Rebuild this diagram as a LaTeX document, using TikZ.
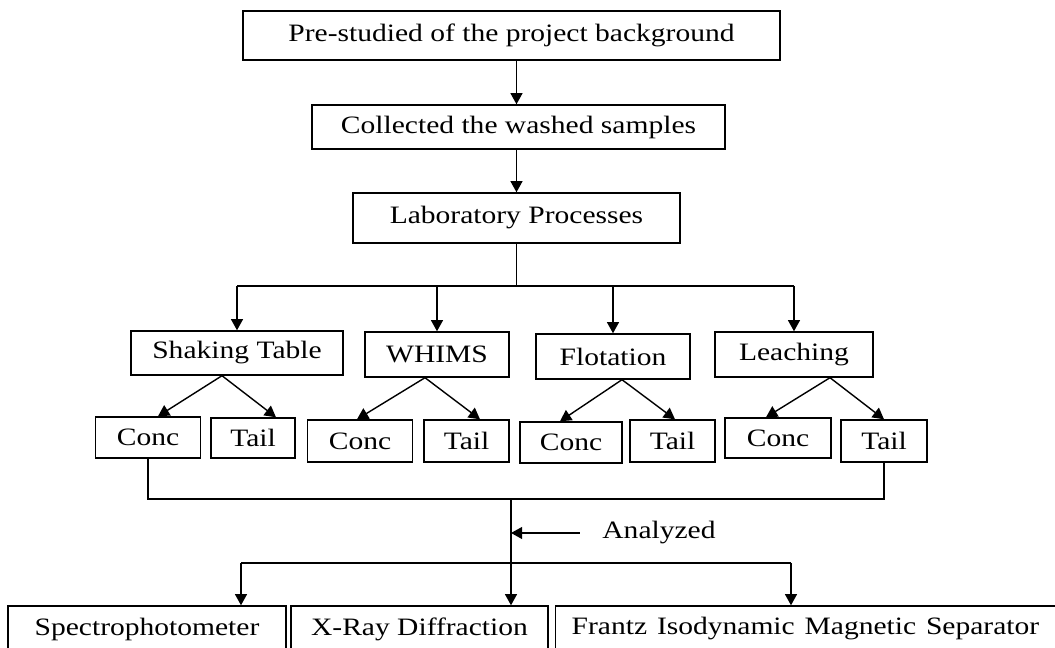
\documentclass[tikz,border=0pt]{standalone}
\usepackage{fontspec}
\setmainfont{Liberation Serif}
\usetikzlibrary{arrows.meta,calc}
\newcommand{\wide}[1]{\scalebox{1.18}[1]{#1}}

\begin{document}
\begin{tikzpicture}[x=0.025cm, y=-0.025cm, >={Triangle[length=0.28cm, width=0.3cm]},
	line width=1pt, font=\fontsize{17.8}{21}\selectfont,
	box/.style={draw, line width=1pt, inner sep=0pt, align=center}]
	\clip (0, 0) rectangle (1055, 648);
	% main stages
	\node[box, minimum width=13.425cm, minimum height=1.225cm] (pre) at (511.5, 35.5) {\wide{Pre-studied of the project background}};
	\node[box, minimum width=10.325cm, minimum height=1.1cm] (col) at (518.5, 127) {\wide{Collected the washed samples}};
	\node[box, minimum width=8.175cm, minimum height=1.25cm] (lab) at (516.5, 218) {\wide{Laboratory Processes}};
	% processes
	\node[box, minimum width=5.3cm, minimum height=1.1cm] (st) at (237, 353) {\wide{Shaking Table}};
	\node[box, minimum width=3.6cm, minimum height=1.125cm] (wh) at (437, 354.5) {\wide{WHIMS}};
	\node[box, minimum width=3.85cm, minimum height=1.125cm] (fl) at (613, 356.5) {\wide{Flotation}};
	\node[box, minimum width=3.95cm, minimum height=1.125cm] (le) at (794, 354.5) {\wide{Leaching}};
	% products
	\node[box, minimum width=2.625cm, minimum height=1.025cm] (stc) at (148, 437.5) {\wide{Conc}};
	\node[box, minimum width=2.1cm, minimum height=1cm] (stt) at (253, 438) {\wide{Tail}};
	\node[box, minimum width=2.625cm, minimum height=1.05cm] (whc) at (360, 441) {\wide{Conc}};
	\node[box, minimum width=2.125cm, minimum height=1.05cm] (wht) at (466.5, 441) {\wide{Tail}};
	\node[box, minimum width=2.55cm, minimum height=1.025cm] (flc) at (571, 442.5) {\wide{Conc}};
	\node[box, minimum width=2.125cm, minimum height=1.05cm] (flt) at (672.5, 441) {\wide{Tail}};
	\node[box, minimum width=2.65cm, minimum height=1cm] (lec) at (778, 438) {\wide{Conc}};
	\node[box, minimum width=2.15cm, minimum height=1.05cm] (let) at (884, 441) {\wide{Tail}};
	% analyses
	\node[box, minimum width=6.95cm, minimum height=1.15cm] (sp) at (147, 629) {\wide{Spectrophotometer}};
	\node[box, minimum width=6.425cm, minimum height=1.15cm] (xr) at (419.5, 629) {\wide{X-Ray Diffraction}};
	\node[box, minimum height=1.15cm, inner xsep=0.4cm, text width=14cm, align=left, anchor=west] (fi) at (555, 629) {\wide{Frantz Isodynamic Magnetic Separator}};
	\node[inner sep=0pt] (an) at (659, 533) {\wide{Analyzed}};

	\coordinate (bus) at (516.5, 286);
	\coordinate (join) at (511, 499);
	\coordinate (outL) at (241, 563);
	\coordinate (outR) at (791, 563);

	\draw[->] (pre.south -| lab) -- (col.north -| lab);
	\draw[->] (col.south -| lab) -- (lab.north);
	\draw (lab.south) -- (bus);
	\draw (st.north |- bus) -- (le.north |- bus);
	\foreach \n in {st, wh, fl, le}
		\draw[->] (\n.north |- bus) -- (\n.north);
	\foreach \n/\o/\a/\b in {st/-15/10/23, wh/-12/-3/13.5, fl/9/-11/2.5, le/36/-12/0} {
		\draw[->] ($(\n.south)+(\o, 0)$) -- ($(\n c.north)+(\a, 0)$);
		\draw[->] ($(\n.south)+(\o, 0)$) -- ($(\n t.north)+(\b, 0)$);
	}
	\draw (stc.south) |- (join) -| (let.south);
	\draw[->] (join) -- (join |- xr.north);
	\draw[->] ($(an.west)+(-22, 0)$) -- (join |- an);
	\draw (outL) -- (outR);
	\draw[->] (outL) -- (outL |- sp.north);
	\draw[->] (outR) -- (outR |- fi.north);
\end{tikzpicture}
\end{document}
